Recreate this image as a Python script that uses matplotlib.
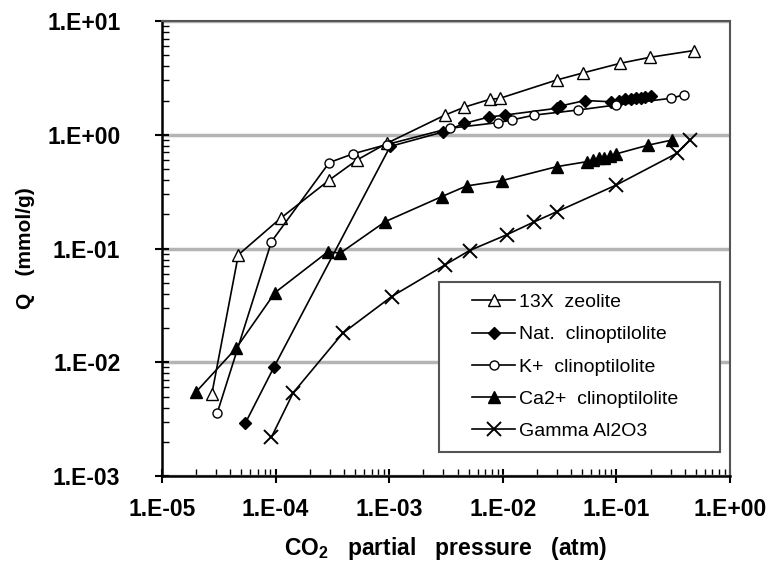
import numpy as np
import matplotlib
matplotlib.use("Agg")
import matplotlib.pyplot as plt
from matplotlib.ticker import FuncFormatter, LogLocator, NullFormatter
from matplotlib.patches import Rectangle

plt.rcParams["font.family"] = ["Liberation Sans", "DejaVu Sans"]
plt.rcParams["mathtext.fontset"] = "custom"
plt.rcParams["mathtext.bf"] = "Liberation Sans:bold"
plt.rcParams["mathtext.rm"] = "Liberation Sans:bold"

# CO2 partial pressure (atm) vs Q (mmol/g)
zeo13x_p = [2.75e-5, 4.7e-5, 1.11e-4, 2.97e-4, 5.2e-4, 9.5e-4, 3.1e-3, 4.6e-3,
            7.7e-3, 9.4e-3, 0.0298, 0.051, 0.108, 0.198, 0.48]
zeo13x_q = [5.3e-3, 0.088, 0.185, 0.40, 0.60, 0.84, 1.49, 1.75,
            2.05, 2.09, 3.03, 3.5, 4.25, 4.8, 5.5]

nat_p = [5.4e-5, 9.7e-5, 1.02e-3, 3.0e-3, 4.6e-3, 7.5e-3, 0.0104, 0.030, 0.032,
         0.053, 0.09, 0.105, 0.12, 0.135, 0.15, 0.165, 0.18, 0.2]
nat_q = [2.9e-3, 9.1e-3, 0.79, 1.06, 1.26, 1.43, 1.49, 1.71, 1.79,
         2.0, 1.95, 2.0, 2.05, 2.08, 2.1, 2.12, 2.15, 2.2]

kplus_p = [3.07e-5, 9.2e-5, 2.97e-4, 4.8e-4, 9.5e-4, 3.4e-3, 9.1e-3, 0.012,
           0.019, 0.046, 0.10, 0.30, 0.39]
kplus_q = [3.6e-3, 0.115, 0.57, 0.68, 0.82, 1.14, 1.28, 1.35,
           1.49, 1.65, 1.83, 2.09, 2.24]

ca_p = [2.0e-5, 4.5e-5, 9.9e-5, 2.9e-4, 3.7e-4, 9.2e-4, 2.9e-3, 4.8e-3, 9.8e-3,
        0.030, 0.055, 0.062, 0.07, 0.078, 0.088, 0.10, 0.19, 0.31]
ca_q = [5.5e-3, 0.0133, 0.041, 0.094, 0.091, 0.172, 0.286, 0.355, 0.395,
        0.525, 0.58, 0.60, 0.62, 0.63, 0.65, 0.68, 0.81, 0.90]

al2o3_p = [9.2e-5, 1.43e-4, 3.9e-4, 1.05e-3, 3.1e-3, 5.1e-3, 0.0108, 0.019,
           0.030, 0.10, 0.34, 0.445]
al2o3_q = [2.2e-3, 5.4e-3, 0.018, 0.0378, 0.0718, 0.096, 0.132, 0.172,
           0.211, 0.362, 0.687, 0.90]

series = [
    ("13X  zeolite", zeo13x_p, zeo13x_q, dict(marker="^", mfc="white", ms=8.5)),
    ("Nat.  clinoptilolite", nat_p, nat_q, dict(marker="D", mfc="black", ms=6.5)),
    ("K+  clinoptilolite", kplus_p, kplus_q, dict(marker="o", mfc="white", ms=6.5)),
    ("Ca2+  clinoptilolite", ca_p, ca_q, dict(marker="^", mfc="black", ms=8.5)),
    ("Gamma Al2O3", al2o3_p, al2o3_q, dict(marker="x", mfc="black", ms=10, mew=1.4)),
]

fig = plt.figure(figsize=(7.81, 5.65), dpi=100)
ax = fig.add_axes([0.2074, 0.1575, 0.7273, 0.8053])

for label, p, q, style in series:
    kw = dict(color="black", lw=1.2, mec="black", mew=1.0)
    kw.update(style)
    ax.plot(p, q, label=label, **kw)

ax.set_xscale("log")
ax.set_yscale("log")
ax.set_xlim(1e-5, 1e0)
ax.set_ylim(1e-3, 1e1)

fmt = FuncFormatter(lambda v, pos: "1.E%+03d" % int(round(np.log10(v))))
ax.xaxis.set_major_locator(LogLocator(base=10, numticks=10))
ax.yaxis.set_major_locator(LogLocator(base=10, numticks=10))
ax.xaxis.set_major_formatter(fmt)
ax.yaxis.set_major_formatter(fmt)
ax.xaxis.set_minor_locator(LogLocator(base=10, subs=np.arange(2, 10), numticks=20))
ax.yaxis.set_minor_locator(LogLocator(base=10, subs=np.arange(2, 10), numticks=20))
ax.xaxis.set_minor_formatter(NullFormatter())
ax.yaxis.set_minor_formatter(NullFormatter())

ax.tick_params(which="major", direction="inout", length=10, width=1.5,
               labelsize=16.5)
ax.tick_params(axis="x", which="major", pad=11)
ax.tick_params(axis="y", which="major", pad=25)
ax.tick_params(which="minor", direction="in", length=5, width=1.0)
ax.tick_params(top=False, right=False, which="both")
for t in ax.get_xticklabels() + ax.get_yticklabels():
    t.set_fontweight("bold")

ax.yaxis.grid(True, which="major", color="#b4b4b4", lw=2.5)
ax.set_axisbelow(True)

ax.spines["left"].set_linewidth(1.8)
ax.spines["bottom"].set_linewidth(1.8)
ax.spines["top"].set_color("#555555")
ax.spines["right"].set_color("#555555")
ax.spines["top"].set_linewidth(1.5)
ax.spines["right"].set_linewidth(1.5)

ax.set_xlabel(r"CO$_\mathbf{2}$   partial   pressure   (atm)", fontsize=16.5,
              fontweight="bold", labelpad=10)
ax.set_ylabel("Q   (mmol/g)", fontsize=15, fontweight="bold", labelpad=9)

# legend box
ax.add_patch(Rectangle((0.488, 0.053), 0.494, 0.374, transform=ax.transAxes,
                       facecolor="white", edgecolor="#555555", lw=1.5, zorder=4))
leg = ax.legend(loc="upper left", bbox_to_anchor=(0.546, 0.401), frameon=False,
                fontsize=14, handlelength=2.2, handletextpad=0.2,
                labelspacing=0.75, borderpad=0, borderaxespad=0)
leg.set_zorder(5)

fig.savefig("out.png", dpi=100)
